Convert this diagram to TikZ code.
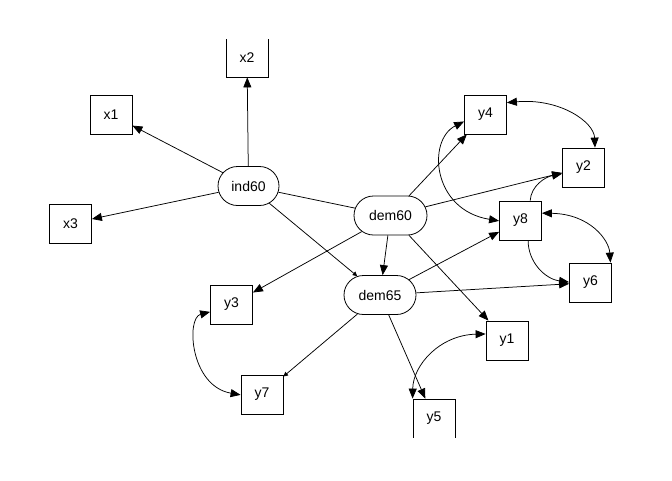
\documentclass[tikz,border=0pt]{standalone}
\usepackage{fontspec}
\setmainfont{Liberation Sans}
\usetikzlibrary{arrows.meta,shapes.misc}
\tikzset{
  obs/.style={draw, rectangle, minimum width=42pt, minimum height=39pt, inner sep=0pt, line width=0.8pt, font=\fontsize{14}{16}\selectfont},
  lat/.style={draw, rounded rectangle, minimum height=39pt, inner sep=0pt, line width=0.8pt, font=\fontsize{14}{16}\selectfont},
  con/.style={line width=0.75pt},
  arr/.style={con, -{Triangle[length=10pt,width=8pt]}},
  arrs/.style={con, -{Triangle[length=4.5pt,width=4.5pt]}},
  cov/.style={con, {Triangle[length=10pt,width=8pt]}-{Triangle[length=10pt,width=8pt]}},
}
\begin{document}
\begin{tikzpicture}[x=1pt,y=-1pt]
\useasboundingbox[fill=white] (0,0) rectangle (672,480);
\begin{scope}
\clip (0,39) rectangle (672,437);
% latent
\node[lat, minimum width=61pt] (ind60) at (248.5,186) {ind60};
\node[lat, minimum width=73pt] (dem60) at (390.5,215.5) {dem60};
\node[lat, minimum width=72pt] (dem65) at (380,295) {dem65};
% observed
\node[obs] (x1) at (111,114.5) {x1};
\node[obs] (x2) at (247,57.5) {x2};
\node[obs] (x3) at (70.5,223.5) {x3};
\node[obs] (y4) at (485.5,114.5) {y4};
\node[obs] (y2) at (583.5,167.5) {y2};
\node[obs] (y8) at (520.5,220.5) {y8};
\node[obs] (y6) at (590.5,282.5) {y6};
\node[obs] (y1) at (507,340.5) {y1};
\node[obs] (y5) at (434,418.5) {y5};
\node[obs] (y3) at (231.5,304.5) {y3};
\node[obs] (y7) at (262,394.5) {y7};
% regressions / loadings
\draw[arr] (ind60) -- (x1);
\draw[arr] (ind60) -- (x2);
\draw[arr] (ind60) -- (x3);
\draw[con] (ind60) -- (dem60);
\draw[arrs] (ind60) -- (dem65);
\draw[arr] (dem60) -- (dem65);
\draw[arr] (dem60) -- (y4);
\draw[arr] (dem60) -- (y2);
\draw[arr] (dem60) -- (y3);
\draw[arr] (dem60) -- (y1);
\draw[arr] (dem65) -- (y8);
\draw[arr] (dem65) -- (y6);
\draw[arrs] (dem65) -- (y7);
\draw[arr] (dem65) -- (y5);
% covariances
\draw[cov] (y4.29) .. controls (560,98) and (594,122) .. (y2.60);
\draw[cov] (y4.198) .. controls (427,140) and (432,210) .. (y8.181);
\draw[arr] (y8.64) .. controls (531,186) and (545,177) .. (y2.196);
\draw[cov] (y8.19) .. controls (590,214) and (609,240) .. (y6.45);
\draw[arr] (y8.291) .. controls (528,262) and (545,279) .. (y6.179);
\draw[cov] (y3.199) .. controls (186,318) and (190,386) .. (y7.181);
\draw[cov] (y1.163) .. controls (440,335) and (413,365) .. (y5.north west);
\end{scope}
\end{tikzpicture}
\end{document}
